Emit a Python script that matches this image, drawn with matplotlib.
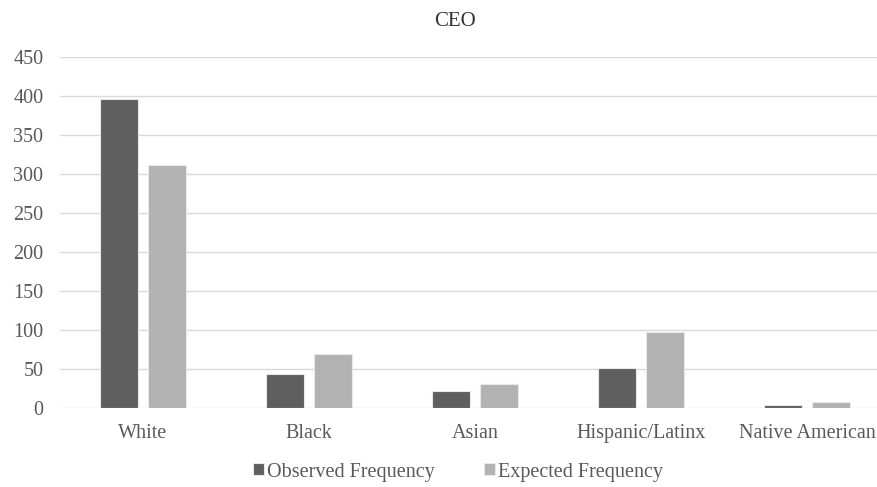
import numpy as np
import matplotlib
matplotlib.use("Agg")
import matplotlib.pyplot as plt

categories = ["White", "Black", "Asian", "Hispanic/Latinx", "Native American"]
observed = [396, 43, 21, 51, 3]
expected = [311, 69, 31, 97, 7]
yticks = [0, 50, 100, 150, 200, 250, 300, 350, 400, 450]

plt.rcParams["font.family"] = ["Liberation Serif", "DejaVu Serif"]

W, H = 878, 487
fig = plt.figure(figsize=(W / 100, H / 100), dpi=100)
ax = fig.add_axes([60 / W, (H - 407.7) / H, 830 / W, 351 / H])

x = np.arange(len(categories))
bw = 0.225
gap = 0.065
off = (bw + gap) / 2
ax.bar(x - off, observed, width=bw, color="#5f5f5f", edgecolor="#e8e8e8",
       linewidth=0.8, label="Observed Frequency", zorder=3)
ax.bar(x + off, expected, width=bw, color="#b2b2b2", edgecolor="#e8e8e8",
       linewidth=0.8, label="Expected Frequency", zorder=3)

ax.set_xlim(-0.5, len(categories) - 0.5)
ax.set_ylim(0, 450)
ax.set_yticks(yticks)
ax.set_xticks(x)
ax.set_xticklabels(categories)
ax.yaxis.grid(True, color="#d9d9d9", linewidth=1.0, zorder=0)
ax.set_axisbelow(True)
for s in ax.spines.values():
    s.set_visible(False)
ax.tick_params(axis="y", length=0, labelsize=14.5, colors="#595959", pad=12)
ax.tick_params(axis="x", length=0, labelsize=14.5, colors="#595959", pad=12)

fig.text(455 / W, 1 - 21 / H, "CEO", ha="center", va="center",
         fontsize=15, color="#333333")

leg = fig.legend(loc="center", bbox_to_anchor=(458 / W, 1 - 472 / H), ncol=2,
                 frameon=False, fontsize=14.5, handlelength=0.55, handleheight=0.55,
                 handletextpad=0.15, columnspacing=2.4, labelcolor="#595959")

fig.savefig("out.png", dpi=100)
